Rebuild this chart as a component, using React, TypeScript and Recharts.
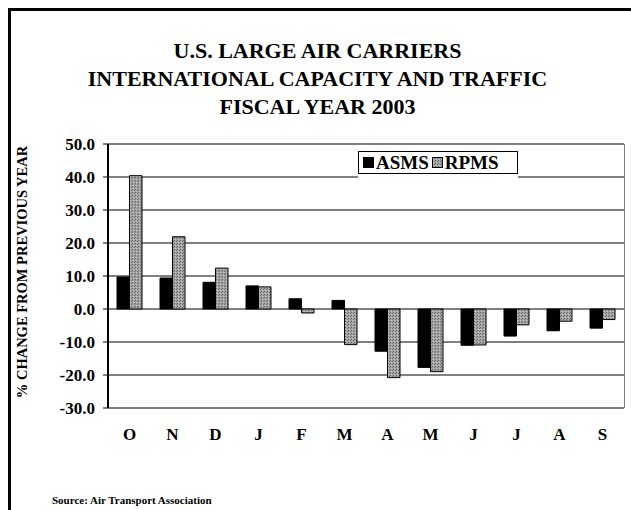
import React from 'react';
import { BarChart, Bar, XAxis, YAxis, CartesianGrid } from 'recharts';

const months = ['O', 'N', 'D', 'J', 'F', 'M', 'A', 'M', 'J', 'J', 'A', 'S'];
const asms = [9.7, 9.4, 8.1, 7.0, 3.1, 2.6, -12.8, -17.7, -11.0, -8.2, -6.6, -5.8];
const rpms = [40.4, 21.9, 12.4, 6.7, -1.2, -10.8, -20.8, -19.0, -10.9, -4.8, -3.7, -3.2];
const yTicks = [-30, -20, -10, 0, 10, 20, 30, 40, 50];
const seriesNames = ['ASMS', 'RPMS'];

const titleLines = [
  'U.S. LARGE AIR CARRIERS',
  'INTERNATIONAL CAPACITY AND TRAFFIC',
  'FISCAL YEAR 2003',
];

const serif = '"Liberation Serif", "Times New Roman", serif';
const fills: Record<string, string> = { ASMS: '#000', RPMS: 'url(#stipple)' };

const data = months.map((m, i) => ({ month: m, ASMS: asms[i], RPMS: rpms[i] }));

// legend box with black and stippled swatches
const LegendBox = () => (
  <div style={{ position: 'absolute', left: 358, top: 151, background: '#fff', paddingBottom: 5 }}>
    <div
      style={{
        border: '1px solid #000',
        display: 'flex',
        alignItems: 'center',
        height: 21,
        width: 154,
        padding: '0 0 0 4px',
        fontFamily: serif,
        fontWeight: 'bold',
        fontSize: 19,
        background: '#fff',
      }}
    >
      {seriesNames.map((name) => (
        <span key={name} style={{ display: 'flex', alignItems: 'center', marginRight: 3 }}>
          <svg width={11} height={11} style={{ marginRight: 2 }}>
            <rect x={0.5} y={0.5} width={10} height={10} fill={fills[name]} stroke="#000" />
          </svg>
          {name}
        </span>
      ))}
    </div>
  </div>
);

export default function App() {
  return (
    <div style={{ position: 'absolute', left: 0, top: 0, width: 631, height: 510, background: '#fff' }}>
      <svg width={0} height={0} style={{ position: 'absolute' }}>
        <defs>
          <pattern id="stipple" width={3} height={3} patternUnits="userSpaceOnUse">
            <rect width={3} height={3} fill="#a6a6a6" />
            <rect x={0} y={0} width={1} height={1} fill="#5e5e5e" />
            <rect x={2} y={1} width={1} height={1} fill="#6e6e6e" />
            <rect x={1} y={2} width={1} height={1} fill="#c4c4c4" />
          </pattern>
        </defs>
      </svg>

      <div
        style={{
          position: 'absolute',
          left: 4,
          top: 37,
          width: 627,
          textAlign: 'center',
          fontFamily: serif,
          fontWeight: 'bold',
          fontSize: 22,
          lineHeight: '28px',
        }}
      >
        {titleLines.map((t) => (
          <div key={t}>{t}</div>
        ))}
      </div>

      <div
        style={{
          position: 'absolute',
          left: 22 - 150,
          top: 272 - 9,
          width: 300,
          height: 18,
          lineHeight: '18px',
          textAlign: 'center',
          transform: 'rotate(-90deg)',
          fontFamily: serif,
          fontWeight: 'bold',
          fontSize: 14.5,
          whiteSpace: 'nowrap',
        }}
      >
        % CHANGE FROM PREVIOUS YEAR
      </div>

      <div style={{ position: 'absolute', left: 0, top: 0 }}>
        <BarChart
          width={631}
          height={510}
          data={data}
          margin={{ top: 144, right: 7, bottom: 72, left: 0 }}
          barGap={0}
        >
          <CartesianGrid vertical={false} stroke="#000" strokeWidth={1} />
          <XAxis
            dataKey="month"
            axisLine={false}
            tickLine={false}
            tickSize={0}
            tickMargin={20}
            height={30}
            interval={0}
            tick={{ fill: '#000', fontFamily: serif, fontWeight: 'bold', fontSize: 17 }}
          />
          <YAxis
            width={108}
            domain={[-30, 50]}
            ticks={yTicks}
            interval={0}
            tickFormatter={(v: number) => v.toFixed(1)}
            axisLine={{ stroke: '#000', strokeWidth: 2 }}
            tickLine={{ stroke: '#000' }}
            tickSize={5}
            tickMargin={8}
            tick={{ fill: '#000', fontFamily: serif, fontWeight: 'bold', fontSize: 17 }}
          />
          <Bar dataKey="ASMS" fill={fills.ASMS} stroke="#000" strokeWidth={1} barSize={12.5} isAnimationActive={false} />
          <Bar dataKey="RPMS" fill={fills.RPMS} stroke="#000" strokeWidth={1} barSize={12.5} isAnimationActive={false} />
        </BarChart>
      </div>

      {/* right edge of the plot frame */}
      <div style={{ position: 'absolute', left: 624, top: 144, width: 1, height: 264, background: '#808080' }} />

      <LegendBox />

      <div
        style={{
          position: 'absolute',
          left: 52,
          top: 494,
          fontFamily: serif,
          fontWeight: 'bold',
          fontSize: 11,
          lineHeight: '13px',
        }}
      >
        Source: Air Transport Association
      </div>

      {/* outer frame, only top and left edges fall inside the picture */}
      <div style={{ position: 'absolute', left: 8, top: 8, width: 623, height: 3, background: '#000' }} />
      <div style={{ position: 'absolute', left: 8, top: 8, width: 3, height: 502, background: '#000' }} />
    </div>
  );
}
